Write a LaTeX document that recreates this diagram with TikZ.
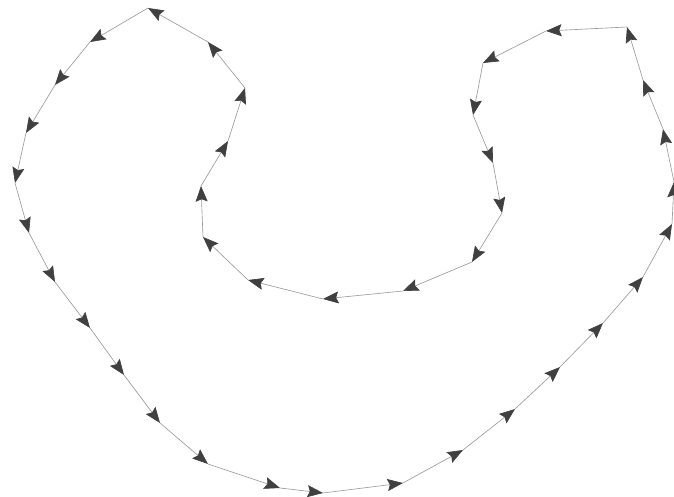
\documentclass[tikz,border=0pt]{standalone}
\usetikzlibrary{arrows.meta}

\begin{document}
\begin{tikzpicture}[
    x=0.025cm, y=-0.025cm,
    edge/.style={draw=black!40, line width=0.45pt, -{Stealth[length=3.9mm, width=3mm, inset=0.6mm, color=black!75, fill=black!75]}},
]

\useasboundingbox (0,0) rectangle (674,497);

% Polygon vertices (pixel coordinates of the loop)
\foreach \px/\py [count=\i from 0] in {
    148/8, 90/42, 55/85, 26/133, 15/183, 29/233, 55/282, 90/328,
    124/375, 160/423, 208/464, 280/488, 323/493, 403/483, 463/450, 515/409,
    560/367, 603/323, 643/277, 672/224, 674/182, 663/129, 643/80, 627/27,
    546/31, 483/63, 473/115, 493/163, 502/213, 472/262, 403/291, 323/299,
    248/280, 203/237, 201/186, 228/141, 245/88, 208/42}
    \coordinate (p\i) at (\px,\py);

% Directed edges, one arrow per segment
\foreach \i [evaluate=\i as \j using {int(mod(\i+1,38))}] in {0,...,37}
    \draw[edge] (p\i) -- (p\j);

\end{tikzpicture}
\end{document}
